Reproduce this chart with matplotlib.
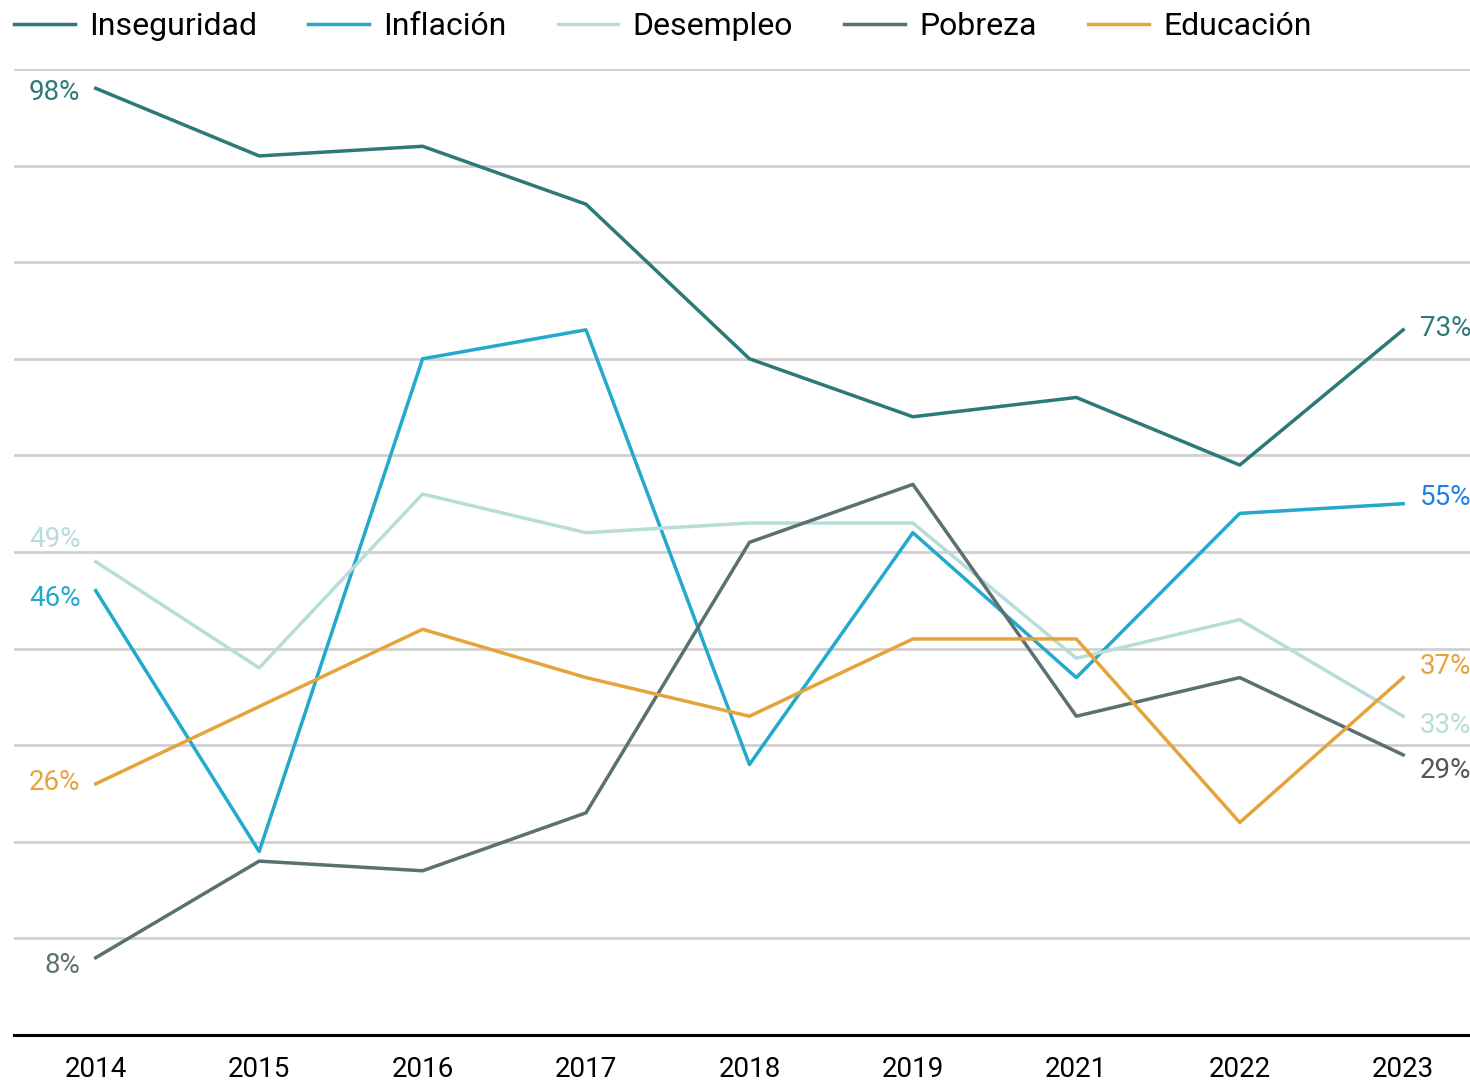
import matplotlib
matplotlib.use("Agg")
import matplotlib.pyplot as plt

plt.rcParams["font.family"] = ["Roboto", "DejaVu Sans"]

YEARS = ["2014", "2015", "2016", "2017", "2018", "2019", "2021", "2022", "2023"]
SERIES = ["Inseguridad", "Inflación", "Desempleo", "Pobreza", "Educación"]
INSEGURIDAD = [98, 91, 92, 86, 70, 64, 66, 59, 73]
INFLACION = [46, 19, 70, 73, 28, 52, 37, 54, 55]
DESEMPLEO = [49, 38, 56, 52, 53, 53, 39, 43, 33]
POBREZA = [8, 18, 17, 23, 51, 57, 33, 37, 29]
EDUCACION = [26, 34, 42, 37, 33, 41, 41, 22, 37]

COLORS = ["#2b7a78", "#22a9cb", "#b8ddd8", "#5b7070", "#e5a43b"]
# end-label colours (a couple differ slightly from the line colour)
LEFT_LABEL_COLORS = ["#2b7a78", "#22a9cb", "#b8ddd8", "#5b7070", "#e5a43b"]
RIGHT_LABEL_COLORS = ["#2b7a78", "#1f7fe6", "#b8ddd8", "#555555", "#e5a43b"]
# vertical nudges (points) to keep end labels apart
LEFT_NUDGE = [-3, -6, 16, -5.5, 1]
RIGHT_NUDGE = [1, 4.5, -7, -11, 8]

values = [INSEGURIDAD, INFLACION, DESEMPLEO, POBREZA, EDUCACION]

fig = plt.figure(figsize=(14.7, 10.81), dpi=100)
ax = fig.add_axes([14 / 1470, 46 / 1081, 1456 / 1470, 966 / 1081])

xs = list(range(len(YEARS)))
for i, name in enumerate(SERIES):
    ax.plot(xs, values[i], color=COLORS[i], lw=2.5, label=name, zorder=3)

last = len(YEARS) - 1
for i in range(len(SERIES)):
    v0 = values[i][0]
    ax.annotate(f"{v0}%", (0, v0), xytext=(-11, LEFT_NUDGE[i]),
                textcoords="offset points", ha="right", va="center",
                fontsize=20, color=LEFT_LABEL_COLORS[i], zorder=4)
    v1 = values[i][-1]
    ax.annotate(f"{v1}%", (last, v1), xytext=(12, RIGHT_NUDGE[i]),
                textcoords="offset points", ha="left", va="center",
                fontsize=20, color=RIGHT_LABEL_COLORS[i], zorder=4,
                annotation_clip=False)

ax.set_xlim(-0.5, (1470 - 96) / 163.4)
ax.set_ylim(0, 100)
ax.set_yticks(range(10, 101, 10))
ax.grid(axis="y", color="#d0d0d0", lw=2)
ax.set_axisbelow(True)
ax.tick_params(axis="y", left=False, labelleft=False)
ax.set_xticks(xs)
ax.set_xticklabels(YEARS, fontsize=20)
ax.tick_params(axis="x", length=0, pad=15)
for s in ["top", "right", "left"]:
    ax.spines[s].set_visible(False)
ax.spines["bottom"].set_linewidth(2.2)
ax.spines["bottom"].set_color("black")

fig.legend(loc="upper left", bbox_to_anchor=(0.003, 0.998), ncol=5, frameon=False,
           fontsize=23, handlelength=1.9, handletextpad=0.45, columnspacing=1.6,
           borderaxespad=0.0, borderpad=0.3)

fig.savefig("out.png", dpi=100)
